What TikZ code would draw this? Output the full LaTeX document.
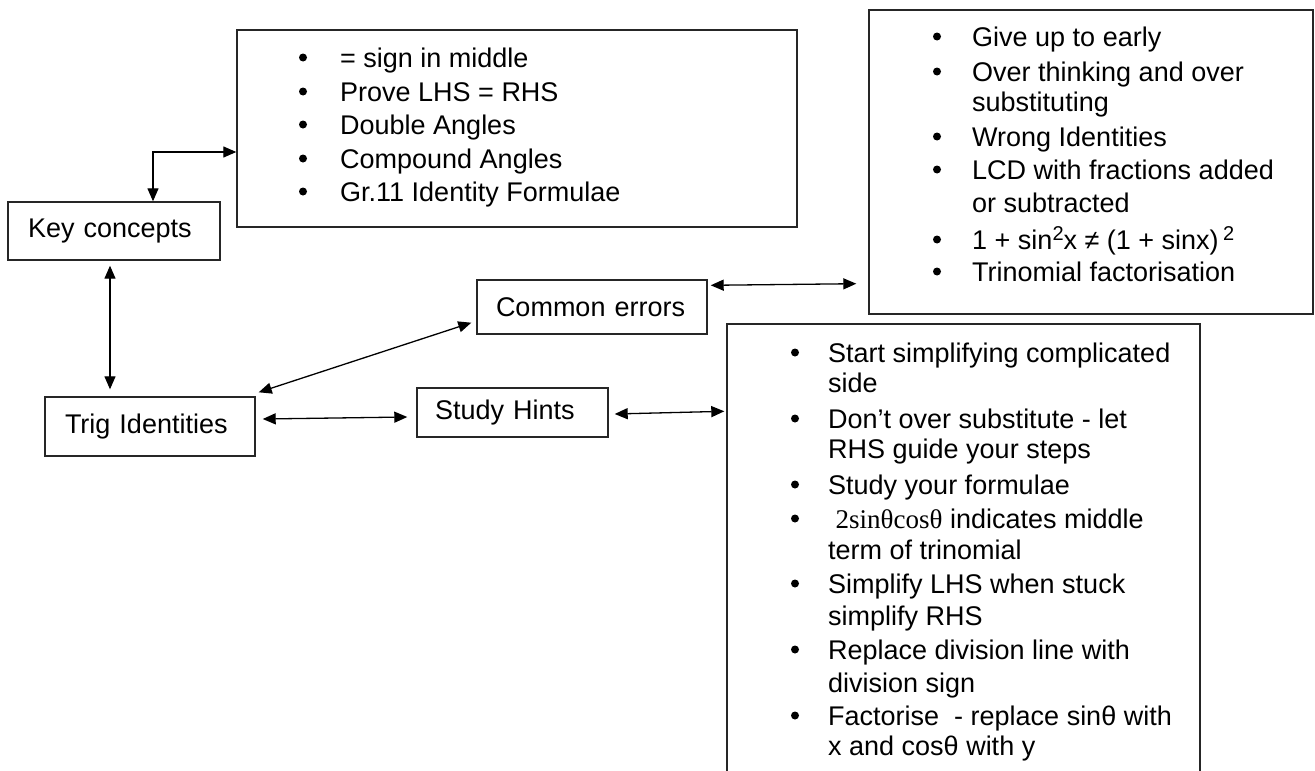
\documentclass[tikz,border=0pt]{standalone}
\usepackage{fontspec}
\setmainfont{Liberation Sans}
\newfontfamily\mathlike{Liberation Serif}
\usetikzlibrary{arrows.meta}
\begin{document}
\begin{tikzpicture}[x=1pt,y=-1pt,
  box/.style={draw=black!85, line width=1.4pt, inner sep=0pt},
  lab/.style={box, align=left},
  item/.style={anchor=base west, inner sep=0pt},
  bul/.style={circle, fill=black, inner sep=0pt, minimum size=8pt},
  arr/.style={{Triangle[length=13pt,width=11pt]}-{Triangle[length=13pt,width=11pt]}, line width=1.3pt},
  font=\fontsize{27}{33}\selectfont]
\useasboundingbox[fill=white] (0,0) rectangle (1315,771);

% boxes
\node[box, minimum width=560pt, minimum height=197pt] (b1) at (517,128.5) {};
\node[box, minimum width=444pt, minimum height=304pt] (eb) at (1091,162) {};
\node[box, minimum width=473pt, minimum height=476pt] (hb) at (963.5,562) {};
\node[lab, minimum width=212pt, minimum height=58pt, inner xsep=20pt, text width=172pt] (kc) at (114,231) {Key concepts};
\node[lab, minimum width=230pt, minimum height=54pt, inner xsep=19pt, text width=192pt] (ce) at (592,307) {Common errors};
\node[lab, minimum width=191pt, minimum height=49pt, inner xsep=18pt, text width=155pt] (sh) at (512.5,412.5) {Study Hints};
\node[lab, minimum width=210pt, minimum height=59pt, inner xsep=20pt, text width=170pt] (ti) at (150,426.5) {Trig Identities};

% key concepts list
\foreach \yy/\txt [count=\i] in {67/{= sign in middle}, 101/{Prove LHS = RHS}, 134/{Double Angles}, 168/{Compound Angles}, 201/{Gr.11 Identity Formulae}}
  {\node[item] (ka\i) at (340,\yy) {\txt};
   \node[bul] (kb\i) at (303,\yy-9.5) {};}

% common errors list
\foreach \yy/\txt [count=\i] in {46/{Give up to early}, 81/{Over thinking and over}, 111/{substituting}, 146/{Wrong Identities}, 179/{LCD with fractions added}, 212/{or subtracted}, 249/{1 + sin\raisebox{9pt}{\fontsize{20}{20}\selectfont 2}x ≠ (1 + sinx)\,\raisebox{9pt}{\fontsize{20}{20}\selectfont 2}}, 281/{Trinomial factorisation}}
  {\node[item] (ea\i) at (972,\yy) {\txt};}
\foreach \yy [count=\i] in {46,81,146,179,249,281}
  {\node[bul] (eu\i) at (937,\yy-9.5) {};}

% study hints list
\foreach \yy/\txt [count=\i] in {362/{Start simplifying complicated}, 392/{side}, 428/{Don't over substitute - let}, 458/{RHS guide your steps}, 494/{Study your formulae}, 528/{\ {\mathlike 2sinθcosθ} indicates middle}, 559/{term of trinomial}, 593/{Simplify LHS when stuck}, 625/{simplify RHS}, 659/{Replace division line with}, 692/{division sign}, 725/{Factorise\ \ - replace sinθ with}, 755/{x and cosθ with y}}
  {\node[item] (ha\i) at (828,\yy) {\txt};}
\foreach \yy [count=\i] in {362,428,494,528,593,659,725}
  {\node[bul] (hu\i) at (795,\yy-9.5) {};}

% connectors
\coordinate (elb) at (153,152);
\draw[arr] (kc.north -| elb) -- (elb) -- (b1.west |- elb);
\draw[arr] ([xshift=-4pt,yshift=-5pt]kc.south) -- ([xshift=-40pt,yshift=7pt]ti.north);
\draw[arr] ([xshift=3pt,yshift=4pt]ti.north east) -- ([xshift=-5pt,yshift=12pt]ce.south west);
\draw[arr] ([xshift=7pt,yshift=7.5pt]ti.east) -- ([xshift=-9pt,yshift=-4.5pt]sh.west);
\draw[arr] ([xshift=6pt,yshift=-1.5pt]sh.east) -- ([xshift=-2pt,yshift=-88pt]hb.north west);
\draw[arr] ([xshift=3pt,yshift=-6pt]ce.north east) -- ([xshift=-12pt,yshift=31pt]eb.south west);
\end{tikzpicture}
\end{document}
